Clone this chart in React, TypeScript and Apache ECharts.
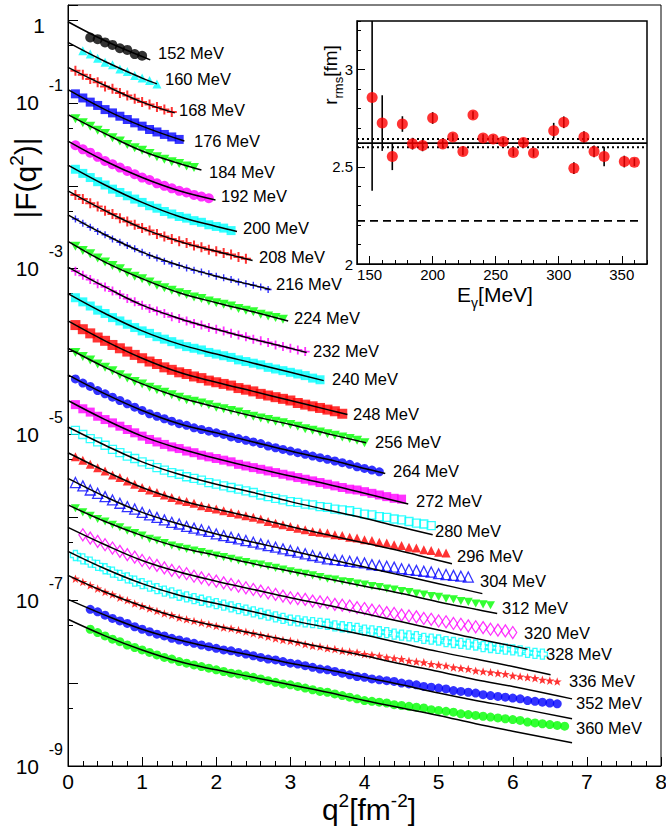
import React, { useEffect, useRef } from "react";
import * as echarts from "echarts";

const FONT = "'Liberation Sans', Arial, Helvetica, sans-serif";

// q^2 grid of the measured points [fm^-2]
const Q2 = [
  0.1, 0.2, 0.3, 0.4, 0.5, 0.6, 0.7, 0.8, 0.9, 1.0,
  1.1, 1.2, 1.3, 1.4, 1.5, 1.6, 1.7, 1.8, 1.9, 2.0,
  2.1, 2.2, 2.3, 2.4, 2.5, 2.6, 2.7, 2.8, 2.9, 3.0,
  3.1, 3.2, 3.3, 3.4, 3.5, 3.6, 3.7, 3.8, 3.9, 4.0,
  4.1, 4.2, 4.3, 4.4, 4.5, 4.6, 4.7, 4.8, 4.9, 5.0,
  5.1, 5.2, 5.3, 5.4, 5.5, 5.6, 5.7, 5.8, 5.9, 6.0,
  6.1, 6.2, 6.3, 6.4, 6.5, 6.6, 6.7, 6.8,
];

const ENERGIES = [152, 160, 168, 176, 184, 192, 200, 208, 216, 224, 232, 240, 248, 256, 264, 272, 280, 296, 304, 312, 320, 328, 336, 352, 360];

// y-axis tick labels (decades that carry a label)
const Y_LABEL_VALUES = [1e-9, 1e-7, 1e-5, 1e-3, 1e-1, 1];
const Y_MINOR_TICKS = [5e-9, 5e-8, 5e-7, 5e-6, 5e-5, 5e-4, 5e-3, 5e-2, 5e-1];

// measured log10|F(q^2)| (scaled curves), one value per Q2 grid point (null = no point)
const D152 = [null, null, -0.21, -0.23, -0.27, -0.30, -0.34, -0.36, -0.41, -0.43];
const D160 = [null, -0.37, -0.41, -0.46, -0.51, -0.54, -0.59, -0.62, -0.67, -0.70, -0.73, -0.77];
const D168 = [-0.61, -0.66, -0.71, -0.75, -0.80, -0.83, -0.88, -0.91, -0.95, -0.99, -1.02, -1.05, -1.08, -1.11];
const D176 = [-0.89, -0.94, -0.99, -1.03, -1.08, -1.12, -1.16, -1.20, -1.24, -1.28, -1.32, -1.35, -1.38, -1.41, -1.44];
const D184 = [-1.19, -1.24, -1.28, -1.33, -1.37, -1.42, -1.46, -1.50, -1.54, -1.57, -1.61, -1.65, -1.68, -1.71, -1.73, -1.76, -1.78];
const D192 = [-1.51, -1.56, -1.60, -1.65, -1.70, -1.74, -1.78, -1.82, -1.86, -1.90, -1.93, -1.97, -2.00, -2.03, -2.06, -2.08, -2.11, -2.13, -2.15];
const D200 = [-1.80, -1.85, -1.90, -1.95, -1.99, -2.04, -2.08, -2.12, -2.16, -2.20, -2.24, -2.27, -2.31, -2.34, -2.37, -2.39, -2.42, -2.44, -2.47, -2.49, -2.51, -2.54];
const D208 = [-2.11, -2.16, -2.21, -2.25, -2.30, -2.34, -2.39, -2.43, -2.47, -2.51, -2.54, -2.58, -2.61, -2.64, -2.67, -2.69, -2.72, -2.74, -2.77, -2.79, -2.81, -2.83, -2.86, -2.88];
const D216 = [-2.40, -2.45, -2.50, -2.55, -2.59, -2.64, -2.68, -2.72, -2.76, -2.80, -2.84, -2.87, -2.91, -2.94, -2.96, -2.99, -3.02, -3.04, -3.06, -3.09, -3.11, -3.13, -3.16, -3.18, -3.20, -3.22, -3.25];
const D224 = [-2.73, -2.78, -2.82, -2.87, -2.92, -2.96, -3.00, -3.05, -3.09, -3.12, -3.16, -3.20, -3.23, -3.26, -3.29, -3.31, -3.34, -3.36, -3.39, -3.41, -3.43, -3.45, -3.48, -3.50, -3.52, -3.55, -3.57, -3.59, -3.61];
const D232 = [-3.03, -3.08, -3.13, -3.18, -3.22, -3.27, -3.31, -3.36, -3.40, -3.44, -3.48, -3.51, -3.54, -3.58, -3.60, -3.63, -3.66, -3.68, -3.71, -3.73, -3.75, -3.78, -3.80, -3.82, -3.85, -3.87, -3.89, -3.92, -3.94, -3.96, -3.98, -4.00];
const D240 = [-3.35, -3.40, -3.45, -3.50, -3.54, -3.59, -3.63, -3.67, -3.71, -3.75, -3.78, -3.82, -3.85, -3.88, -3.91, -3.94, -3.96, -3.98, -4.01, -4.03, -4.05, -4.07, -4.10, -4.12, -4.14, -4.16, -4.19, -4.21, -4.23, -4.25, -4.27, -4.29, -4.32, -4.34];
const D248 = [
  -3.68, -3.73, -3.78, -3.83, -3.87, -3.92, -3.96, -4.00, -4.04,
  -4.08, -4.12, -4.15, -4.19, -4.22, -4.25, -4.27, -4.30, -4.32, -4.35,
  -4.37, -4.39, -4.41, -4.44, -4.46, -4.48, -4.51, -4.53, -4.55, -4.57,
  -4.59, -4.62, -4.64, -4.66, -4.68, -4.70, -4.72, -4.75,
];
const D256 = [
  -4.01, -4.06, -4.10, -4.15, -4.19, -4.23, -4.28, -4.32, -4.36,
  -4.39, -4.43, -4.46, -4.49, -4.52, -4.55, -4.58, -4.60, -4.62, -4.64,
  -4.67, -4.69, -4.71, -4.73, -4.76, -4.78, -4.80, -4.82, -4.84, -4.86,
  -4.88, -4.90, -4.93, -4.95, -4.97, -4.99, -5.01, -5.03, -5.05, -5.07,
  -5.10,
];
const D264 = [
  -4.33, -4.38, -4.42, -4.47, -4.51, -4.55, -4.59, -4.63, -4.67,
  -4.71, -4.75, -4.78, -4.81, -4.84, -4.87, -4.89, -4.92, -4.94, -4.96,
  -4.98, -5.00, -5.03, -5.05, -5.07, -5.09, -5.11, -5.14, -5.16, -5.18,
  -5.20, -5.22, -5.24, -5.26, -5.28, -5.30, -5.32, -5.34, -5.36, -5.39,
  -5.41, -5.43, -5.45,
];
const D272 = [
  -4.64, -4.69, -4.73, -4.78, -4.82, -4.86, -4.90, -4.94, -4.98,
  -5.02, -5.06, -5.09, -5.12, -5.15, -5.17, -5.20, -5.22, -5.25, -5.27,
  -5.29, -5.31, -5.33, -5.36, -5.38, -5.40, -5.42, -5.44, -5.46, -5.48,
  -5.50, -5.52, -5.54, -5.56, -5.58, -5.60, -5.62, -5.64, -5.66, -5.67,
  -5.69, -5.71, -5.73, -5.75, -5.77, -5.78,
];
const D280 = [
  -4.95, -5.00, -5.05, -5.09, -5.13, -5.18, -5.22, -5.26, -5.29,
  -5.33, -5.36, -5.40, -5.43, -5.46, -5.48, -5.51, -5.53, -5.55, -5.58,
  -5.60, -5.62, -5.64, -5.66, -5.68, -5.70, -5.73, -5.75, -5.77, -5.79,
  -5.81, -5.82, -5.84, -5.85, -5.87, -5.88, -5.90, -5.91, -5.92, -5.94,
  -5.96, -5.97, -5.99, -6.00, -6.02, -6.03, -6.05, -6.07, -6.08, -6.10,
];
const D296 = [
  -5.27, -5.31, -5.36, -5.40, -5.44, -5.49, -5.52, -5.56, -5.60,
  -5.64, -5.67, -5.70, -5.73, -5.76, -5.79, -5.81, -5.83, -5.86, -5.88,
  -5.90, -5.92, -5.94, -5.96, -5.98, -6.00, -6.02, -6.05, -6.07, -6.09,
  -6.11, -6.13, -6.15, -6.17, -6.18, -6.19, -6.21, -6.22, -6.24, -6.25,
  -6.27, -6.28, -6.30, -6.31, -6.33, -6.34, -6.36, -6.37, -6.39, -6.40,
  -6.42, -6.43,
];
const D304 = [
  -5.58, -5.62, -5.67, -5.71, -5.75, -5.79, -5.83, -5.87, -5.90,
  -5.94, -5.97, -6.00, -6.03, -6.06, -6.08, -6.11, -6.13, -6.15, -6.17,
  -6.20, -6.22, -6.24, -6.26, -6.28, -6.30, -6.32, -6.34, -6.36, -6.38,
  -6.40, -6.42, -6.44, -6.46, -6.48, -6.50, -6.51, -6.52, -6.53, -6.54,
  -6.55, -6.57, -6.58, -6.59, -6.60, -6.62, -6.63, -6.64, -6.65, -6.66,
  -6.68, -6.69, -6.70, -6.71, -6.72,
];
const D312 = [
  -5.89, -5.94, -5.98, -6.02, -6.05, -6.09, -6.12, -6.16, -6.19,
  -6.22, -6.26, -6.28, -6.31, -6.34, -6.36, -6.38, -6.40, -6.42, -6.44,
  -6.46, -6.48, -6.50, -6.52, -6.54, -6.56, -6.57, -6.59, -6.61, -6.63,
  -6.65, -6.67, -6.68, -6.70, -6.72, -6.74, -6.75, -6.77, -6.78, -6.80,
  -6.81, -6.83, -6.84, -6.86, -6.87, -6.89, -6.90, -6.92, -6.93, -6.95,
  -6.96, -6.98, -6.99, -7.01, -7.02, -7.04, -7.05, -7.06,
];
const D320 = [
  null, -6.21, -6.25, -6.29, -6.33, -6.37, -6.41, -6.45, -6.48,
  -6.52, -6.55, -6.58, -6.61, -6.64, -6.66, -6.68, -6.71, -6.73, -6.75,
  -6.77, -6.79, -6.81, -6.83, -6.85, -6.87, -6.89, -6.91, -6.93, -6.95,
  -6.97, -6.98, -6.99, -7.01, -7.02, -7.03, -7.05, -7.06, -7.07, -7.09,
  -7.10, -7.12, -7.13, -7.15, -7.16, -7.18, -7.19, -7.20, -7.22, -7.23,
  -7.25, -7.26, -7.28, -7.29, -7.31, -7.32, -7.33, -7.35, -7.36, -7.37,
  -7.39,
];
const D328 = [
  -6.46, -6.50, -6.54, -6.58, -6.62, -6.66, -6.70, -6.73, -6.77,
  -6.80, -6.83, -6.86, -6.89, -6.91, -6.94, -6.96, -6.98, -7.00, -7.02,
  -7.04, -7.06, -7.08, -7.10, -7.12, -7.14, -7.16, -7.18, -7.20, -7.22,
  -7.24, -7.25, -7.26, -7.27, -7.28, -7.29, -7.31, -7.32, -7.33, -7.34,
  -7.36, -7.37, -7.38, -7.39, -7.41, -7.42, -7.43, -7.44, -7.46, -7.47,
  -7.48, -7.50, -7.51, -7.52, -7.53, -7.54, -7.56, -7.57, -7.58, -7.59,
  -7.60, -7.61, -7.63, -7.64, -7.65,
];
const D336 = [
  -6.74, -6.78, -6.82, -6.86, -6.90, -6.93, -6.97, -7.00, -7.04,
  -7.07, -7.10, -7.13, -7.16, -7.18, -7.21, -7.23, -7.25, -7.27, -7.29,
  -7.31, -7.33, -7.34, -7.36, -7.38, -7.40, -7.42, -7.44, -7.46, -7.48,
  -7.49, -7.51, -7.53, -7.55, -7.56, -7.58, -7.59, -7.61, -7.62, -7.63,
  -7.65, -7.66, -7.67, -7.69, -7.70, -7.71, -7.73, -7.74, -7.75, -7.77,
  -7.78, -7.79, -7.81, -7.82, -7.83, -7.85, -7.86, -7.87, -7.88, -7.89,
  -7.91, -7.92, -7.93, -7.94, -7.96, -7.97, -7.98,
];
const D352 = [
  null, null, -7.11, -7.14, -7.18, -7.22, -7.25, -7.28, -7.32,
  -7.35, -7.38, -7.41, -7.43, -7.46, -7.48, -7.50, -7.52, -7.54, -7.56,
  -7.58, -7.60, -7.61, -7.63, -7.65, -7.67, -7.69, -7.71, -7.72, -7.74,
  -7.76, -7.77, -7.79, -7.81, -7.83, -7.84, -7.86, -7.88, -7.90, -7.92,
  -7.93, -7.95, -7.96, -7.97, -7.98, -8.00, -8.01, -8.02, -8.04, -8.05,
  -8.06, -8.07, -8.09, -8.10, -8.11, -8.12, -8.14, -8.15, -8.16, -8.17,
  -8.18, -8.19, -8.21, -8.22, -8.23, -8.24, -8.25,
];
const D360 = [
  null, null, -7.35, -7.39, -7.43, -7.47, -7.50, -7.54, -7.57,
  -7.60, -7.63, -7.66, -7.69, -7.71, -7.74, -7.76, -7.78, -7.80, -7.82,
  -7.84, -7.86, -7.88, -7.89, -7.91, -7.93, -7.95, -7.97, -7.99, -8.01,
  -8.02, -8.04, -8.06, -8.08, -8.10, -8.11, -8.13, -8.15, -8.17, -8.19,
  -8.21, -8.22, -8.23, -8.24, -8.26, -8.27, -8.28, -8.29, -8.30, -8.32,
  -8.33, -8.34, -8.35, -8.37, -8.38, -8.39, -8.40, -8.41, -8.42, -8.43,
  -8.44, -8.45, -8.47, -8.48, -8.49, -8.50, -8.51, -8.52,
];

// fitted curves: [q^2, log10|F|]
const F152 = [[0, -0.02], [0.5, -0.25], [1.0, -0.44], [1.11, -0.48]];
const F160 = [[0, -0.27], [0.5, -0.50], [1.0, -0.70], [1.2, -0.77]];
const F168 = [[0, -0.57], [0.5, -0.79], [1.0, -0.99], [1.44, -1.12]];
const F176 = [[0, -0.84], [0.5, -1.08], [1.0, -1.28], [1.57, -1.46]];
const F184 = [[0, -1.14], [0.5, -1.37], [1.0, -1.58], [1.5, -1.73], [1.8, -1.81]];
const F192 = [[0, -1.46], [0.5, -1.70], [1.0, -1.90], [1.5, -2.06], [1.99, -2.17]];
const F200 = [[0, -1.75], [0.5, -1.99], [1.0, -2.20], [1.5, -2.37], [2.0, -2.49], [2.28, -2.55]];
const F208 = [[0, -2.06], [0.5, -2.30], [1.0, -2.51], [1.5, -2.67], [2.0, -2.79], [2.49, -2.90]];
const F216 = [[0, -2.35], [0.5, -2.59], [1.0, -2.80], [1.5, -2.96], [2.0, -3.09], [2.5, -3.20], [2.73, -3.25]];
const F224 = [[0, -2.67], [0.5, -2.92], [1.0, -3.12], [1.5, -3.29], [2.0, -3.41], [2.5, -3.52], [2.97, -3.63]];
const F232 = [[0, -2.98], [0.5, -3.22], [1.0, -3.44], [1.5, -3.60], [2.0, -3.73], [2.5, -3.85], [3.0, -3.96], [3.22, -4.01]];
const F240 = [[0, -3.30], [0.5, -3.54], [1.0, -3.75], [1.5, -3.91], [2.0, -4.03], [2.5, -4.14], [3.0, -4.25], [3.45, -4.35]];
const F248 = [[0, -3.63], [0.5, -3.87], [1.0, -4.08], [1.5, -4.25], [2.0, -4.37], [2.5, -4.48], [3.0, -4.59], [3.5, -4.70], [3.77, -4.76]];
const F256 = [[0, -3.96], [0.5, -4.19], [1.0, -4.39], [1.5, -4.55], [2.0, -4.67], [2.5, -4.78], [3.0, -4.88], [3.5, -4.99], [4.02, -5.10]];
const F264 = [[0, -4.28], [0.5, -4.51], [1.0, -4.71], [1.5, -4.87], [2.0, -4.98], [2.5, -5.09], [3.0, -5.20], [3.5, -5.30], [4.0, -5.41], [4.28, -5.47]];
const F272 = [[0, -4.59], [0.5, -4.82], [1.0, -5.02], [1.5, -5.17], [2.0, -5.29], [2.5, -5.40], [3.0, -5.50], [3.5, -5.60], [4.0, -5.71], [4.59, -5.84]];
const F280 = [[0, -4.91], [0.5, -5.13], [1.0, -5.33], [1.5, -5.48], [2.0, -5.60], [2.5, -5.70], [3.0, -5.81], [3.5, -5.91], [4.0, -6.01], [4.5, -6.12], [4.92, -6.21]];
const F296 = [[0, -5.22], [0.5, -5.44], [1.0, -5.64], [1.5, -5.79], [2.0, -5.90], [2.5, -6.00], [3.0, -6.11], [3.5, -6.21], [4.0, -6.31], [4.5, -6.41], [5.0, -6.52], [5.18, -6.56]];
const F304 = [[0, -5.53], [0.5, -5.75], [1.0, -5.94], [1.5, -6.08], [2.0, -6.20], [2.5, -6.30], [3.0, -6.40], [3.5, -6.50], [4.0, -6.60], [4.5, -6.70], [5.0, -6.80], [5.59, -6.92]];
const F312 = [[0, -5.85], [0.5, -6.05], [1.0, -6.22], [1.5, -6.36], [2.0, -6.46], [2.5, -6.56], [3.0, -6.65], [3.5, -6.74], [4.0, -6.83], [4.5, -6.92], [5.0, -7.02], [5.5, -7.11], [5.79, -7.16]];
const F320 = [[0, -6.12], [0.5, -6.33], [1.0, -6.52], [1.5, -6.66], [2.0, -6.77], [2.5, -6.87], [3.0, -6.97], [3.5, -7.06], [4.0, -7.16], [4.5, -7.26], [5.0, -7.36], [5.5, -7.46], [6.2, -7.59]];
const F328 = [[0, -6.41], [0.5, -6.62], [1.0, -6.80], [1.5, -6.94], [2.0, -7.04], [2.5, -7.14], [3.0, -7.24], [3.5, -7.33], [4.0, -7.42], [4.5, -7.52], [5.0, -7.62], [5.5, -7.71], [6.0, -7.80], [6.51, -7.90]];
const F336 = [[0, -6.70], [0.5, -6.90], [1.0, -7.07], [1.5, -7.21], [2.0, -7.31], [2.5, -7.40], [3.0, -7.49], [3.5, -7.58], [4.0, -7.67], [4.5, -7.77], [5.0, -7.86], [5.5, -7.96], [6.0, -8.04], [6.8, -8.19]];
const F352 = [[0, -6.99], [0.5, -7.18], [1.0, -7.35], [1.5, -7.48], [2.0, -7.58], [2.5, -7.67], [3.0, -7.76], [3.5, -7.84], [4.0, -7.93], [4.5, -8.02], [5.0, -8.12], [5.5, -8.21], [6.0, -8.29], [6.8, -8.43]];
const F360 = [[0, -7.23], [0.5, -7.43], [1.0, -7.60], [1.5, -7.74], [2.0, -7.84], [2.5, -7.93], [3.0, -8.02], [3.5, -8.11], [4.0, -8.21], [4.5, -8.30], [5.0, -8.39], [5.5, -8.49], [6.0, -8.58], [6.8, -8.72]];

const DATA = [D152, D160, D168, D176, D184, D192, D200, D208, D216, D224, D232, D240, D248, D256, D264, D272, D280, D296, D304, D312, D320, D328, D336, D352, D360];
const FITS = [F152, F160, F168, F176, F184, F192, F200, F208, F216, F224, F232, F240, F248, F256, F264, F272, F280, F296, F304, F312, F320, F328, F336, F352, F360];

// inset: rms radius vs photon energy
const R_RMS = [2.857, 2.725, 2.553, 2.72, 2.619, 2.61, 2.751, 2.617, 2.653, 2.579, 2.766, 2.648, 2.643, 2.63, 2.574, 2.625, 2.571, 2.686, 2.729, 2.493, 2.653, 2.579, 2.553, 2.527, 2.524];
const R_ERR = [0.48, 0.143, 0.07, 0.04, 0.03, 0.03, 0.03, 0.02, 0.02, 0.02, 0.02, 0.02, 0.02, 0.02, 0.02, 0.02, 0.02, 0.04, 0.03, 0.03, 0.03, 0.03, 0.05, 0.03, 0.02];
const R_MEAN = 2.622;
const R_BAND = [2.601, 2.643];
const R_REF = 2.222;
const INSET_X_LABELS = [150, 200, 250, 300, 350];
const INSET_Y_LABELS = [2, 2.5, 3];

// styles (kept apart from the data)
const COLORS = ["#000000", "#00ffff", "#ff0000", "#0000ff", "#00ff00", "#ff00ff", "#00ffff", "#ff0000", "#0000ff", "#00ff00", "#ff00ff", "#00ffff", "#ff0000", "#00ff00", "#0000ff", "#ff00ff", "#00ffff", "#ff0000", "#0000ff", "#00ff00", "#ff00ff", "#00ffff", "#ff0000", "#0000ff", "#00ff00"];
const SHAPES = ["circle", "triangle", "plus", "rect", "tdown", "circle", "rect", "plus", "plus", "tdown", "plus", "rect", "rect", "tdown", "circle", "rect", "orect", "triangle", "otriangle", "tdown", "odiamond", "ocross", "star", "circle", "circle"];
const SIZES = [10, 9, 10, 9, 10, 10, 9, 10, 7, 10, 9, 9, 10, 10, 9, 9, 8, 9, 10, 9, 10, 10, 9, 9, 9];
const LABEL_POS = [
  [158, 53], [165, 79], [179, 110], [194, 141], [209, 172], [221, 196], [243, 228], [259, 257], [276, 284],
  [294, 318], [313, 351], [332, 379], [353, 414], [375, 442], [393, 471], [416, 501], [435, 531], [457, 556],
  [480, 581], [502, 608], [524, 633], [546, 654], [569, 681], [576, 703], [576, 728],
];

const PATHS: Record<string, string> = {
  plus: "path://M4,0 H6 V4 H10 V6 H6 V10 H4 V6 H0 V4 H4 Z",
  tdown: "path://M0,0 L10,0 L5,9 Z",
  star: "path://M5,0 L6.18,3.38 L9.76,3.45 L6.9,5.62 L7.94,9.05 L5,7 L2.06,9.05 L3.1,5.62 L0.24,3.45 L3.82,3.38 Z",
  ocross: "path://M3,0 H7 V3 H10 V7 H7 V10 H3 V7 H0 V3 H3 Z",
};

function markerStyle(shape: string, color: string, size: number) {
  const open = shape.startsWith("o");
  let symbol = shape;
  let symbolSize: any = size;
  if (shape === "orect") symbol = "rect";
  if (shape === "otriangle") symbol = "triangle";
  if (shape === "odiamond") { symbol = "diamond"; symbolSize = [size * 0.8, size * 1.2]; }
  if (PATHS[shape]) symbol = PATHS[shape];
  return {
    symbol,
    symbolSize,
    symbolKeepAspect: true,
    itemStyle: open
      ? { color: "rgba(0,0,0,0)", borderColor: color, borderWidth: 1.3 }
      : { color },
  };
}

function buildOption() {
  const series: any[] = [];
  DATA.forEach((arr, i) => {
    const pts = arr
      .map((v, k) => (v == null ? null : [Q2[k], Math.pow(10, v)]))
      .filter((p) => p != null);
    series.push({
      type: "scatter",
      xAxisIndex: 0,
      yAxisIndex: 0,
      data: pts,
      z: 2,
      silent: true,
      ...markerStyle(SHAPES[i], COLORS[i], SIZES[i]),
    });
  });
  FITS.forEach((arr) => {
    series.push({
      type: "line",
      xAxisIndex: 0,
      yAxisIndex: 0,
      data: arr.map((p) => [p[0], Math.pow(10, p[1])]),
      showSymbol: false,
      symbol: "none",
      smooth: 0.4,
      lineStyle: { color: "#000", width: 1.5 },
      z: 4,
      silent: true,
    });
  });

  // inset
  const inset = ENERGIES.map((e, i) => [e, R_RMS[i], R_ERR[i]]);
  series.push({
    type: "custom",
    xAxisIndex: 1,
    yAxisIndex: 2,
    clip: true,
    data: inset,
    encode: { x: 0, y: 1 },
    renderItem: (params: any, api: any) => {
      const x = api.value(0);
      const y = api.value(1);
      const e = api.value(2);
      const p1 = api.coord([x, y + e]);
      const p2 = api.coord([x, y - e]);
      return {
        type: "line",
        shape: { x1: p1[0], y1: p1[1], x2: p2[0], y2: p2[1] },
        style: { stroke: "#000", lineWidth: 1.6 },
      };
    },
    z: 5,
    silent: true,
  });
  series.push({
    type: "scatter",
    xAxisIndex: 1,
    yAxisIndex: 2,
    data: inset.map((d) => [d[0], d[1]]),
    symbol: "circle",
    symbolSize: 11,
    itemStyle: { color: "#ff0000" },
    z: 6,
    silent: true,
  });
  const hline = (v: number, x2: number, type: any, w: number) => ({
    type: "line",
    xAxisIndex: 1,
    yAxisIndex: 2,
    data: [[140, v], [x2, v]],
    showSymbol: false,
    symbol: "none",
    lineStyle: { color: "#000", width: w, type },
    z: 4,
    silent: true,
  });
  series.push(hline(R_MEAN, 370, "solid", 1.6));
  series.push(hline(R_BAND[0], 370, [2, 3], 2));
  series.push(hline(R_BAND[1], 370, [2, 3], 2));
  series.push(hline(R_REF, 366, [8, 5], 1.6));

  const axisLineBlack = { show: true, lineStyle: { color: "#000", width: 1 } };

  const graphic: any[] = LABEL_POS.map((p, i) => ({
    type: "text",
    x: p[0],
    y: p[1],
    z: 20,
    silent: true,
    style: {
      text: ENERGIES[i] + " MeV",
      fontSize: 16.5,
      fontFamily: FONT,
      fill: "#000",
      align: "left",
      verticalAlign: "middle",
    },
  }));
  graphic.push({
    type: "text",
    x: 369,
    y: 809,
    z: 20,
    silent: true,
    style: {
      text: "{a|q}{s|2}{a|[fm}{s|-2}{a|]}",
      align: "center",
      verticalAlign: "middle",
      rich: {
        a: { fontSize: 30, lineHeight: 30, fontFamily: FONT, fill: "#000", verticalAlign: "bottom" },
        s: { fontSize: 19, lineHeight: 19, fontFamily: FONT, fill: "#000", verticalAlign: "bottom", padding: [0, 0, 14, 0] },
      },
    },
  });
  graphic.push({
    type: "text",
    x: 25,
    y: 178,
    rotation: Math.PI / 2,
    z: 20,
    silent: true,
    style: {
      text: "{a||F(q}{s|2}{a|)|}",
      align: "center",
      verticalAlign: "middle",
      rich: {
        a: { fontSize: 30, lineHeight: 30, fontFamily: FONT, fill: "#000", verticalAlign: "bottom" },
        s: { fontSize: 19, lineHeight: 19, fontFamily: FONT, fill: "#000", verticalAlign: "bottom", padding: [0, 0, 14, 0] },
      },
    },
  });
  graphic.push({
    type: "text",
    x: 495,
    y: 299,
    z: 20,
    silent: true,
    style: {
      text: "{a|E}{d|γ}{a|[MeV]}",
      align: "center",
      verticalAlign: "middle",
      rich: {
        a: { fontSize: 21, lineHeight: 21, fontFamily: FONT, fill: "#000", verticalAlign: "bottom", padding: [0, 0, 5, 0] },
        d: { fontSize: 14, lineHeight: 14, fontFamily: FONT, fill: "#000", verticalAlign: "bottom" },
      },
    },
  });
  graphic.push({
    type: "text",
    x: 335,
    y: 75,
    rotation: Math.PI / 2,
    z: 20,
    silent: true,
    style: {
      text: "{a|r}{d|rms}{a|[fm]}",
      align: "center",
      verticalAlign: "middle",
      rich: {
        a: { fontSize: 19, lineHeight: 19, fontFamily: FONT, fill: "#000", verticalAlign: "bottom", padding: [0, 0, 5, 0] },
        d: { fontSize: 13, lineHeight: 13, fontFamily: FONT, fill: "#000", verticalAlign: "bottom" },
      },
    },
  });

  const expOf = (v: number) => Math.round(Math.log10(v));

  return {
    animation: false,
    backgroundColor: "#ffffff",
    grid: [
      { left: 68, top: 5, width: 593, height: 761, show: true, borderColor: "#000", borderWidth: 1, backgroundColor: "transparent", containLabel: false, outerBoundsMode: "none" },
      { left: 357, top: 21, width: 290, height: 243, show: true, borderColor: "#000", borderWidth: 1.5, backgroundColor: "transparent", containLabel: false, outerBoundsMode: "none" },
    ],
    xAxis: [
      {
        type: "value",
        gridIndex: 0,
        position: "bottom",
        min: 0,
        max: 8,
        interval: 1,
        axisLine: axisLineBlack,
        axisTick: { show: true, inside: true, length: 9, lineStyle: { color: "#000" } },
        minorTick: { show: true, splitNumber: 5, length: 5, lineStyle: { color: "#000" } },
        splitLine: { show: false },
        minorSplitLine: { show: false },
        axisLabel: { fontSize: 21, fontFamily: FONT, color: "#000", margin: 5, showMinLabel: true, showMaxLabel: true },
      },
      {
        type: "value",
        gridIndex: 1,
        position: "bottom",
        min: 140,
        max: 370,
        interval: 10,
        axisLine: axisLineBlack,
        axisTick: { show: true, inside: true, length: 4, lineStyle: { color: "#000" } },
        splitLine: { show: false },
        axisLabel: { show: false },
      },
      {
        type: "value",
        gridIndex: 1,
        position: "bottom",
        offset: 0,
        min: 140,
        max: 370,
        axisLine: { show: false },
        splitLine: { show: false },
        axisTick: { show: true, inside: true, length: 8, customValues: INSET_X_LABELS, lineStyle: { color: "#000" } },
        axisLabel: {
          show: true,
          customValues: INSET_X_LABELS,
          fontSize: 15,
          fontFamily: FONT,
          color: "#000",
          margin: 3,
        },
      },
    ],
    yAxis: [
      {
        // main log axis: ticks every decade, "10" / "1" part of the labels
        type: "log",
        logBase: 10,
        gridIndex: 0,
        position: "left",
        min: 1e-9,
        max: 1.52,
        interval: 1,
        axisLine: axisLineBlack,
        axisTick: { show: true, inside: true, length: 10, lineStyle: { color: "#000" } },
        splitLine: { show: false },
        axisLabel: {
          margin: 23,
          customValues: Y_LABEL_VALUES,
          rich: {
            t: { fontSize: 21, fontFamily: FONT, color: "#000", padding: [0, 6, 0, 0] },
            o: { fontSize: 21, fontFamily: FONT, color: "#000", padding: [10, 0, 0, 0] },
          },
          formatter: (v: number) => (expOf(v) === 0 ? "{o|1}" : "{t|10}"),
        },
      },
      {
        // same scale: minor ticks at 5x10^n and the raised exponents
        type: "log",
        logBase: 10,
        gridIndex: 0,
        position: "left",
        offset: 0,
        min: 1e-9,
        max: 1.52,
        axisLine: { show: false },
        splitLine: { show: false },
        axisTick: {
          show: true,
          inside: true,
          length: 5,
          customValues: Y_MINOR_TICKS,
          lineStyle: { color: "#000" },
        },
        axisLabel: {
          show: true,
          margin: 5,
          customValues: Y_LABEL_VALUES.filter((v) => v < 0.5),
          rich: {
            e: { fontSize: 16, fontFamily: FONT, color: "#000", padding: [0, 0, 34, 0] },
          },
          formatter: (v: number) => "{e|" + expOf(v) + "}",
        },
      },
      {
        type: "value",
        gridIndex: 1,
        position: "left",
        min: 2,
        max: 3.25,
        interval: 0.1,
        axisLine: axisLineBlack,
        axisTick: { show: true, inside: true, length: 4, lineStyle: { color: "#000" } },
        splitLine: { show: false },
        axisLabel: { show: false },
      },
      {
        type: "value",
        gridIndex: 1,
        position: "left",
        offset: 0,
        min: 2,
        max: 3.25,
        axisLine: { show: false },
        splitLine: { show: false },
        axisTick: { show: true, inside: true, length: 8, customValues: INSET_Y_LABELS, lineStyle: { color: "#000" } },
        axisLabel: {
          show: true,
          customValues: INSET_Y_LABELS,
          fontSize: 15,
          fontFamily: FONT,
          color: "#000",
          margin: 4,
        },
      },
    ],
    graphic,
    series,
  };
}

export default function App() {
  const ref = useRef<HTMLDivElement>(null);
  useEffect(() => {
    if (!ref.current) return;
    const chart = echarts.init(ref.current, null, { renderer: "svg" });
    chart.setOption(buildOption() as any);
    return () => chart.dispose();
  }, []);
  return (
    <div
      ref={ref}
      style={{ position: "absolute", left: 0, top: 0, width: 666, height: 826, background: "#fff" }}
    />
  );
}
